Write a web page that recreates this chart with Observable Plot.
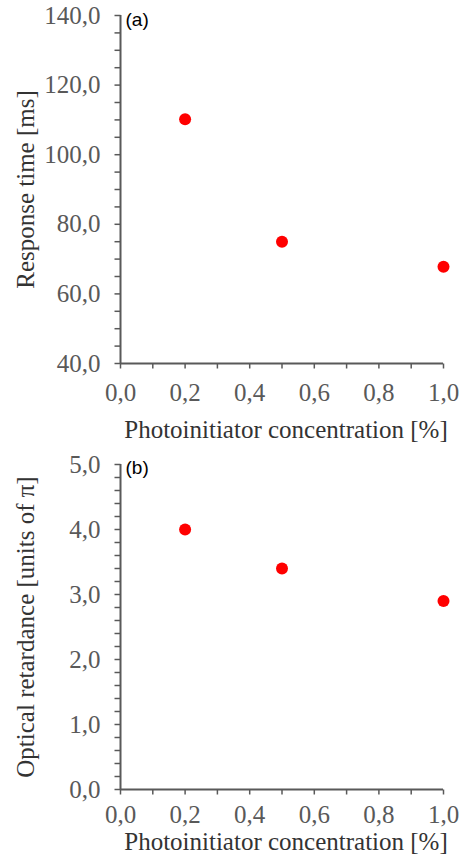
<!DOCTYPE html>
<html>
<head>
<meta charset="utf-8">
<script src="https://cdn.jsdelivr.net/npm/d3@7"></script>
<script src="https://cdn.jsdelivr.net/npm/@observablehq/plot@0.6"></script>
<style>
  html, body { margin: 0; padding: 0; background: #fff; }
  #chart { width: 463px; }
  #chart svg { display: block; }
</style>
</head>
<body>
<div id="chart"></div>
<script>
// ---- data ----
const concentration = [0.2, 0.5, 1.0];              // Photoinitiator concentration [%]
const responseTime = [110.2, 75.0, 67.8];           // Response time [ms]
const retardance = [4.0, 3.4, 2.9];                 // Optical retardance [units of π]

const xMajorTicks = [0, 0.2, 0.4, 0.6, 0.8, 1.0];
const xAllTicks = [0, 0.1, 0.2, 0.3, 0.4, 0.5, 0.6, 0.7, 0.8, 0.9, 1.0];
const yMajorTicksA = [40, 60, 80, 100, 120, 140];
const yMinorTicksA = [40, 45, 50, 55, 60, 65, 70, 75, 80, 85, 90, 95, 100, 105, 110, 115, 120, 125, 130, 135, 140];
const yMajorTicksB = [0, 1, 2, 3, 4, 5];
const yMinorTicksB = [0, 0.2, 0.4, 0.6, 0.8, 1, 1.2, 1.4, 1.6, 1.8, 2, 2.2, 2.4, 2.6, 2.8, 3, 3.2, 3.4, 3.6, 3.8, 4, 4.2, 4.4, 4.6, 4.8, 5];

const xTitle = "Photoinitiator concentration [%]";
const yTitleA = "Response time [ms]";
const yTitleB = "Optical retardance [units of π]";

// ---- styling ----
const axisColor = "#595959";
const labelColor = "#595959";
const titleColor = "#333333";
const serif = "'Liberation Serif', 'Times New Roman', serif";
const fmt = d => d.toFixed(1).replace(".", ",");

// tick glyphs drawn as custom dot symbols
const leftTick = {draw(ctx) { ctx.moveTo(-6, 0); ctx.lineTo(0, 0); }};
const downTick = {draw(ctx) { ctx.moveTo(0, 0); ctx.lineTo(0, 5); }};

function panel(o) {
  const data = concentration.map((c, i) => ({c, v: o.values[i]}));
  const y0 = o.yDomain[0];
  return Plot.plot({
    width: 463,
    height: o.height,
    marginTop: o.marginTop,
    marginBottom: o.marginBottom,
    marginLeft: 120,
    marginRight: 20,
    style: {fontFamily: serif, fontSize: "25px", color: titleColor, background: "white", overflow: "visible"},
    x: {domain: [0, 1], axis: null},
    y: {domain: o.yDomain, ticks: [], tickSize: 0, label: o.yTitle, labelAnchor: "center",
        labelOffset: 104, labelArrow: "none"},
    marks: [
      Plot.dot(o.yMinor, {x: 0, y: d => d, symbol: leftTick, fill: "none", stroke: axisColor, strokeWidth: 1.5}),
      Plot.text(o.yMajor, {x: 0, y: d => d, text: fmt, dx: -20, textAnchor: "end",
        fontSize: 25, fill: labelColor, fontFamily: serif}),
      Plot.dot(xAllTicks, {x: d => d, y: y0, symbol: downTick, fill: "none", stroke: axisColor, strokeWidth: 1.5}),
      Plot.text(xMajorTicks, {x: d => d, y: y0, text: fmt, dy: o.xPad, lineAnchor: "top",
        fontSize: 25, fill: labelColor, fontFamily: serif}),
      Plot.ruleX([0], {stroke: axisColor, strokeWidth: 2}),
      Plot.ruleY([y0], {stroke: axisColor, strokeWidth: 2}),
      Plot.dot(data, {x: "c", y: "v", r: 6, fill: "#ff0000", stroke: "none"}),
      Plot.text([xTitle], {text: d => d, frameAnchor: "bottom", lineAnchor: "middle", dx: 4, dy: o.xTitleDy,
        fontSize: 25, fill: titleColor, fontFamily: serif}),
      Plot.text([o.tag], {text: d => d, frameAnchor: "top-left", lineAnchor: "middle", dx: 5, dy: o.tagDy,
        textAnchor: "start", fontSize: 19, fill: "#000", fontFamily: "'Liberation Sans', Arial, sans-serif"})
    ]
  });
}

const chart = document.getElementById("chart");
chart.append(panel({
  values: responseTime, yDomain: [40, 140], yMajor: yMajorTicksA, yMinor: yMinorTicksA,
  yTitle: yTitleA, tag: "(a)", height: 430, marginTop: 15, marginBottom: 67,
  xPad: 20, xTitleDy: 66, tagDy: 4
}));
chart.append(panel({
  values: retardance, yDomain: [0, 5], yMajor: yMajorTicksB, yMinor: yMinorTicksB,
  yTitle: yTitleB, tag: "(b)", height: 431, marginTop: 34, marginBottom: 72,
  xPad: 16, xTitleDy: 52, tagDy: 3
}));
</script>
</body>
</html>
